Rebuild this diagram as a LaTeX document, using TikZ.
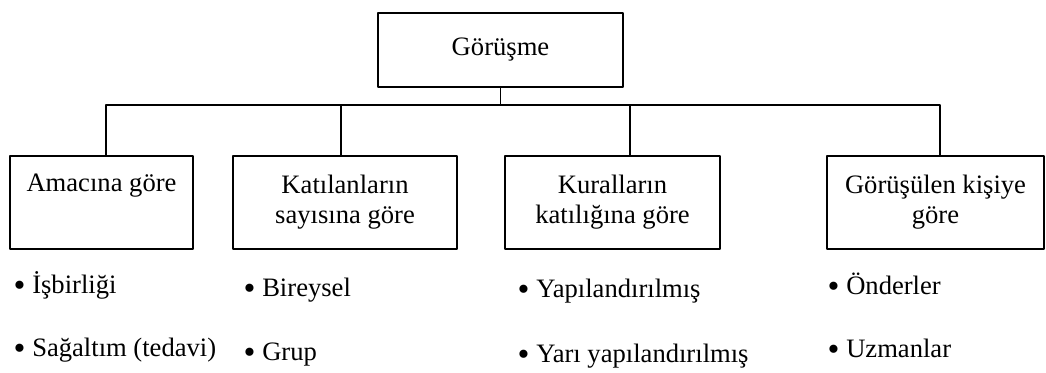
\documentclass[tikz,border=0pt]{standalone}
\usepackage{fontspec}
\setmainfont{Liberation Serif}
\usetikzlibrary{positioning}
\newcommand{\imi}{\raisebox{-3pt}{\fontsize{34}{30}\selectfont•}}
\begin{document}
\begin{tikzpicture}[x=1pt,y=-1pt,line join=round,line cap=round,line width=1.4pt,
	kutu/.style={draw,rectangle,align=center,inner sep=0pt,font=\fontsize{26.6}{30}\selectfont},
	madde/.style={anchor=west,inner sep=0pt,font=\fontsize{26.6}{30}\selectfont}]
	\useasboundingbox (0,0) rectangle (1046,372);
	%kutular
	\node[kutu,minimum width=245,minimum height=74] (gorusme) at (500.5,50) {Görüşme};
	\node[kutu,minimum width=183,minimum height=93] (amac) at (101.5,202.5) {Amacına göre\\\strut};
	\node[kutu,minimum width=224,minimum height=93] (katil) at (345,202.5) {Katılanların\\sayısına göre};
	\node[kutu,minimum width=215,minimum height=93] (kural) at (612.5,202.5) {Kuralların\\katılığına göre};
	\node[kutu,minimum width=217,minimum height=93] (kisi) at (935.5,202.5) {Görüşülen kişiye\\göre};
	%baglantilar
	\coordinate (bus) at (0,105);
	\draw (gorusme.south)--(gorusme.south |- bus);
	\draw ([xshift=4.5]amac.north)--([xshift=4.5]amac.north |- bus)--([xshift=4.5]kisi.north |- bus)--([xshift=4.5]kisi.north);
	\foreach \k/\d in {katil/-4,kural/17.5}
	\draw ([xshift=\d]\k.north)--([xshift=\d]\k.north |- bus);
	%maddeler
	\foreach \x/\y/\t/\n in {13/285/İşbirliği/a1,13/350/Sağaltım (tedavi)/a2,243/290/Bireysel/b1,243/355/Grup/b2,517/291/Yapılandırılmış/c1,517/356/Yarı yapılandırılmış/c2,827/285/Önderler/d1,827/350/Uzmanlar/d2}
	\node[madde] (\n) at (\x,\y) {\imi\ \t};
\end{tikzpicture}
\end{document}
